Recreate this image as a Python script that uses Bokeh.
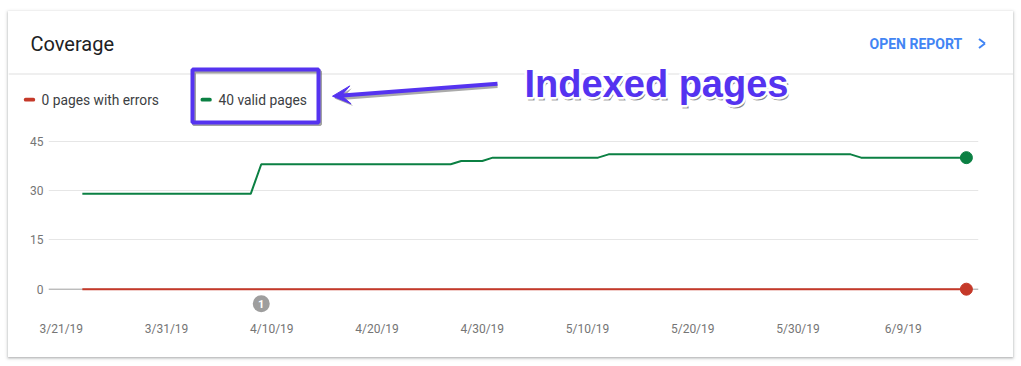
import pandas as pd
from bokeh.plotting import figure
from bokeh.layouts import column
from bokeh.models import (Range1d, FixedTicker, DatetimeTickFormatter, Span, Label,
                          BoxAnnotation, Arrow, VeeHead, ColumnDataSource)
from bokeh.core.properties import value
from bokeh.embed import file_html
from bokeh.resources import INLINE

# ---------------- data ----------------
START_DATE = "2019-03-23"
VALID_PAGES = [
    29, 29, 29, 29, 29, 29, 29, 29, 29, 29, 29, 29, 29, 29, 29, 29, 29,          # 3/23 - 4/8
    38, 38, 38, 38, 38, 38, 38, 38, 38, 38, 38, 38, 38, 38, 38, 38, 38, 38, 38,  # 4/9 - 4/27
    39, 39, 39,                                                                  # 4/28 - 4/30
    40, 40, 40, 40, 40, 40, 40, 40, 40, 40, 40,                                  # 5/1 - 5/11
    41, 41, 41, 41, 41, 41, 41, 41, 41, 41, 41, 41, 41, 41, 41, 41, 41, 41, 41, 41, 41, 41, 41, 41,  # 5/12 - 6/4
    40, 40, 40, 40, 40, 40, 40, 40, 40, 40, 40,                                  # 6/5 - 6/15
]
ERROR_PAGES = [
    0, 0, 0, 0, 0, 0, 0, 0, 0, 0, 0, 0, 0, 0, 0, 0, 0,
    0, 0, 0, 0, 0, 0, 0, 0, 0, 0, 0, 0, 0, 0, 0, 0, 0, 0, 0,
    0, 0, 0,
    0, 0, 0, 0, 0, 0, 0, 0, 0, 0, 0,
    0, 0, 0, 0, 0, 0, 0, 0, 0, 0, 0, 0, 0, 0, 0, 0, 0, 0, 0, 0, 0, 0, 0, 0,
    0, 0, 0, 0, 0, 0, 0, 0, 0, 0, 0,
]
TICK_DATES = ["2019-03-21", "2019-03-31", "2019-04-10", "2019-04-20", "2019-04-30",
              "2019-05-10", "2019-05-20", "2019-05-30", "2019-06-09"]
TICK_LABELS = ["3/21/19", "3/31/19", "4/10/19", "4/20/19", "4/30/19",
               "5/10/19", "5/20/19", "5/30/19", "6/9/19"]
Y_TICKS = [0, 15, 30, 45]
ANNOTATION_DATES = ["2019-04-09"]
ANNOTATION_TEXT = ["1"]

TITLE = "Coverage"
LINK_TEXT = "OPEN REPORT"
ERROR_LEGEND = "0 pages with errors"
VALID_LEGEND = "40 valid pages"
CALLOUT = "Indexed pages"

RED = "#c53929"
GREEN = "#0b8043"
PURPLE = "#5533f0"
GRAY_TEXT = "#757575"

# page placement of the card (the column is moved there by CSS)
CARD_LEFT, CARD_TOP = 8, 11
W = 1005
TOP_H = 115       # header + legend strip  (page y 11 .. 126)
BOT_H = 231       # chart                  (page y 126 .. 357)
SPLIT = CARD_TOP + TOP_H

# ---------------- header figure ----------------
top = figure(width=W, height=TOP_H, x_range=Range1d(0, W), y_range=Range1d(0, TOP_H),
             min_border=0, toolbar_location=None, output_backend="svg", title=None,
             x_axis_location=None, y_axis_location=None, frame_align=False)
top.outline_line_color = None
top.background_fill_color = "white"
top.border_fill_color = "white"
top.grid.grid_line_color = None


def sx(X):
    return X - CARD_LEFT


def sy(Y):
    return SPLIT - Y


def box(left, top_, right, bottom, **kw):
    b = BoxAnnotation(left=sx(left), right=sx(right), top=sy(top_), bottom=sy(bottom),
                      left_units="screen", right_units="screen",
                      top_units="screen", bottom_units="screen", **kw)
    top.add_layout(b)
    return b


def label(X, Y, text, **kw):
    lab = Label(x=sx(X), y=sy(Y), x_units="screen", y_units="screen", text=text,
                text_baseline="middle", **kw)
    top.add_layout(lab)
    return lab


def seg(X0, Y0, X1, Y1, **kw):
    a = Arrow(x_start=sx(X0), y_start=sy(Y0), x_end=sx(X1), y_end=sy(Y1),
              start_units="screen", end_units="screen", **kw)
    top.add_layout(a)
    return a


# divider under the header
box(8, 73, 1013, 74, fill_color="#e0e0e0", fill_alpha=1, line_color=None)

# header
label(30, 43, TITLE, text_font="Roboto", text_font_size="20px", text_color="#202124")
label(869, 43, LINK_TEXT, text_font="Roboto", text_font_size="14px", text_font_style="bold",
      text_color="#4285f4")
seg(978.5, 38.5, 984.5, 43, end=None, line_color="#4285f4", line_width=2)
seg(984.5, 43, 978.5, 47.5, end=None, line_color="#4285f4", line_width=2)

# legend
box(23.3, 97.3, 34.7, 101, fill_color=RED, fill_alpha=1, line_color=None, border_radius=2)
label(41, 99, ERROR_LEGEND, text_font="Roboto", text_font_size="13.8px", text_color="#3c4043")
box(200, 97.3, 211.3, 101, fill_color=GREEN, fill_alpha=1, line_color=None, border_radius=2)
label(218, 99, VALID_LEGEND, text_font="Roboto", text_font_size="13.8px", text_color="#3c4043")

# purple callout box with shadow
box(193.5, 71, 319.5, 124, fill_alpha=0, line_color="#555555", line_alpha=0.55, line_width=4)
box(192, 69, 318, 122, fill_alpha=0, line_color=PURPLE, line_alpha=1, line_width=4)

# arrow with shadow
seg(497, 85.5, 334, 98, line_color="#555555", line_alpha=0.5, line_width=4,
    end=VeeHead(size=18, fill_color="#555555", fill_alpha=0.5, line_color=None))
seg(497, 83.3, 332, 95.7, line_color=PURPLE, line_width=4,
    end=VeeHead(size=18, fill_color=PURPLE, line_color=PURPLE))

# callout text: grey drop shadow, thick white outline, purple fill
CALLOUT_X, CALLOUT_Y = 524, 83.3
callout_font = dict(text_font="Liberation Sans", text_font_style="bold", text_font_size="38px")
label(CALLOUT_X + 1.5, CALLOUT_Y + 3.5, CALLOUT, text_color="#666666", text_alpha=0.6,
      text_outline_color="#666666", **callout_font)
for dx, dy in [(-2, 0), (2, 0), (0, -2), (0, 2), (-1.5, -1.5), (1.5, -1.5), (-1.5, 1.5), (1.5, 1.5)]:
    label(CALLOUT_X + dx, CALLOUT_Y + dy, CALLOUT, text_color="white",
          text_outline_color="white", **callout_font)
label(CALLOUT_X, CALLOUT_Y, CALLOUT, text_color=PURPLE, **callout_font)

# ---------------- chart figure ----------------
dates = pd.date_range(START_DATE, periods=len(VALID_PAGES), freq="D")
src = ColumnDataSource(dict(date=dates, valid=VALID_PAGES, errors=ERROR_PAGES))
last = ColumnDataSource(dict(date=[dates[-1], dates[-1]],
                             y=[ERROR_PAGES[-1], VALID_PAGES[-1]],
                             color=[RED, GREEN]))

PX_PER_UNIT = 3.289
ZERO_Y = 288.7           # page y of value 0
FRAME_BOTTOM = 313       # page y of frame bottom
x0 = pd.Timestamp(TICK_DATES[0])
p = figure(width=W, height=BOT_H, x_axis_type="datetime", output_backend="svg",
           toolbar_location=None, title=None, frame_align=False,
           x_range=Range1d(x0 - pd.Timedelta(days=1.216), x0 + pd.Timedelta(days=87.15)),
           y_range=Range1d(-(FRAME_BOTTOM - ZERO_Y) / PX_PER_UNIT, (ZERO_Y - SPLIT) / PX_PER_UNIT),
           min_border_left=40, min_border_right=35, min_border_top=0,
           min_border_bottom=CARD_TOP + TOP_H + BOT_H - FRAME_BOTTOM)
p.outline_line_color = None
p.background_fill_color = "white"
p.border_fill_color = "white"

tick_ms = [float(pd.Timestamp(d).value // 10**6) for d in TICK_DATES]
p.xaxis.ticker = FixedTicker(ticks=tick_ms)
p.xaxis.formatter = DatetimeTickFormatter(days="%-m/%-d/%y", months="%-m/%-d/%y")
p.xaxis.major_label_overrides = {t: l for t, l in zip(tick_ms, TICK_LABELS)}
p.yaxis.ticker = FixedTicker(ticks=Y_TICKS)
for ax in (p.xaxis[0], p.yaxis[0]):
    ax.axis_line_color = None
    ax.major_tick_line_color = None
    ax.minor_tick_line_color = None
    ax.major_tick_out = 0
    ax.major_tick_in = 0
    ax.minor_tick_out = 0
    ax.major_label_text_font = "Roboto"
    ax.major_label_text_font_size = "12px"
    ax.major_label_text_color = GRAY_TEXT
p.xaxis.major_label_standoff = 8
p.yaxis.major_label_standoff = 5

p.xgrid.grid_line_color = None
p.ygrid.ticker = FixedTicker(ticks=Y_TICKS[1:])
p.ygrid.grid_line_color = "#e6e6e6"
p.ygrid.grid_line_width = 1

p.add_layout(Span(location=0, dimension="width", line_color="#9e9e9e",
                  line_width=1, level="underlay"))

p.line(x="date", y="errors", source=src, line_color=RED, line_width=2)
p.line(x="date", y="valid", source=src, line_color=GREEN, line_width=2)
p.scatter(x="date", y="y", source=last, size=12, fill_color="color", line_color="color")

ann_src = ColumnDataSource(dict(date=pd.to_datetime(ANNOTATION_DATES),
                                y=[-4.4] * len(ANNOTATION_DATES), text=ANNOTATION_TEXT))
p.scatter(x="date", y="y", source=ann_src, size=17, fill_color="#9e9e9e", line_color=None)
p.text(x="date", y="y", text="text", source=ann_src, text_align="center",
       text_baseline="middle", text_color="white", text_font=value("Roboto"),
       text_font_size="11px", text_font_style="bold")

layout = column(top, p, spacing=0,
                styles={"margin-left": f"{CARD_LEFT}px", "margin-top": f"{CARD_TOP}px",
                        "box-shadow": "0 1px 2px 0 rgba(60,64,67,0.3), 0 1px 3px 1px rgba(60,64,67,0.15)"})

open("out.html", "w").write(file_html(layout, INLINE))
